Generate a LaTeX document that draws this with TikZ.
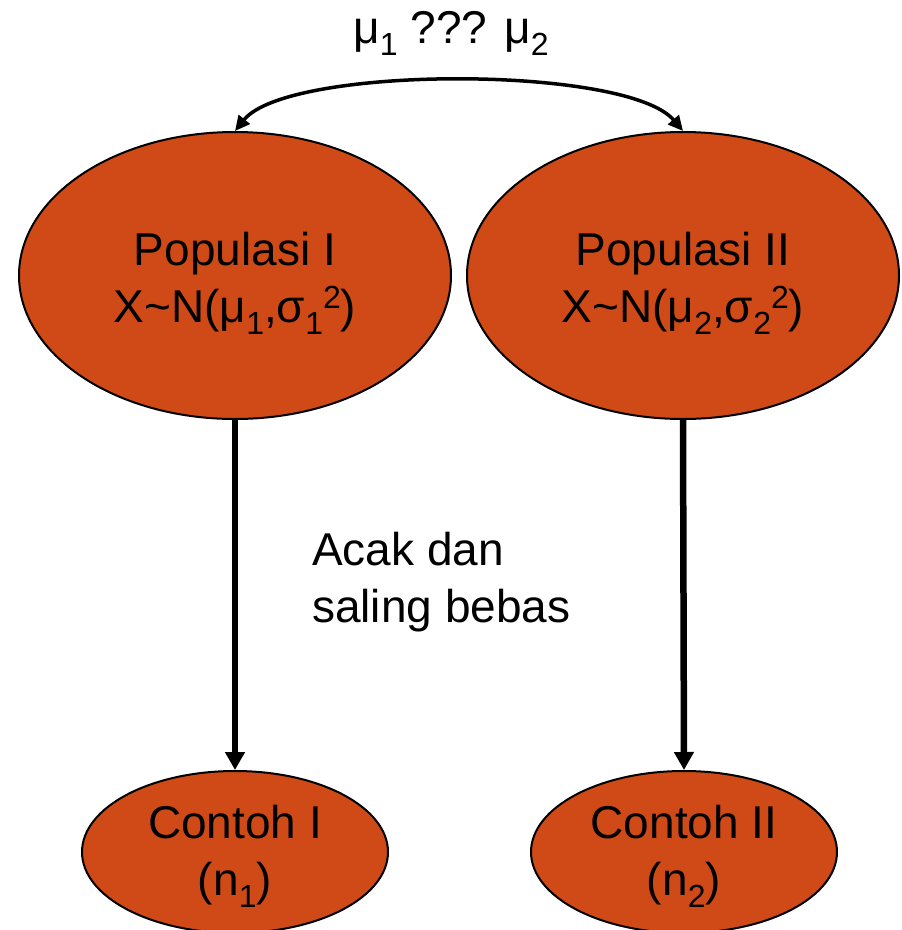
\documentclass[tikz,border=0pt]{standalone}
\usepackage{fontspec}
\setmainfont{Liberation Sans}
\usetikzlibrary{shapes.geometric,arrows.meta}
\definecolor{popfill}{RGB}{208,74,24}
% lowered and raised indices in a smaller size
\newcommand\lo[1]{\raisebox{-12pt}{\fontsize{32}{32}\selectfont #1}}
\newcommand\hi[1]{\raisebox{14pt}{\fontsize{32}{32}\selectfont #1}}
% invisible strut that sets the height of a first line
\newcommand\topstrut[1]{\rule{0pt}{#1}}
\begin{document}
\begin{tikzpicture}[x=1pt,y=-1pt,
  every node/.style={font=\fontsize{46}{57}\selectfont},
  pop/.style={ellipse, draw=black, line width=2pt, fill=popfill,
    minimum width=432pt, minimum height=287pt, inner sep=0pt, align=center},
  smp/.style={pop, minimum width=306pt, minimum height=162pt},
  link/.style={line width=6.5pt, -{Triangle[length=18pt,width=19pt]}},
  cmp/.style={line width=3.5pt,
    {Triangle[length=15pt,width=14pt]}-{Triangle[length=15pt,width=14pt]}},
  note/.style={align=left, inner sep=0pt}]
\useasboundingbox (0,0) rectangle (902,930);

% populations
\node[pop] (popI)  at (235,275.5) {\topstrut{48pt}Populasi I\\X\textasciitilde N(μ\lo{1},σ\lo{1}\hi{2})};
\node[pop] (popII) at (683,275.5) {\topstrut{48pt}Populasi II\\X\textasciitilde N(μ\lo{2},σ\lo{2}\hi{2})};

% samples
\node[smp] (smI)  at (235,852) {\topstrut{42pt}Contoh I\\(n\lo{1})};
\node[smp] (smII) at (684,852) {\topstrut{42pt}Contoh II\\(n\lo{2})};

% comparison of means
\node[inner sep=0pt, anchor=base] (ttl) at (451,43) {μ\lo{1} ??? μ\lo{2}};
\draw[cmp] (popI.north) .. controls (288,65) and (627,65) .. (popII.north);

% sampling arrows
\draw[link] (popI.south) -- (smI.north);
\draw[link] (popII.south) -- (smII.north);

\node[note, anchor=base west] (lbl) at (312,622) {Acak dan\\saling bebas};
\end{tikzpicture}
\end{document}
